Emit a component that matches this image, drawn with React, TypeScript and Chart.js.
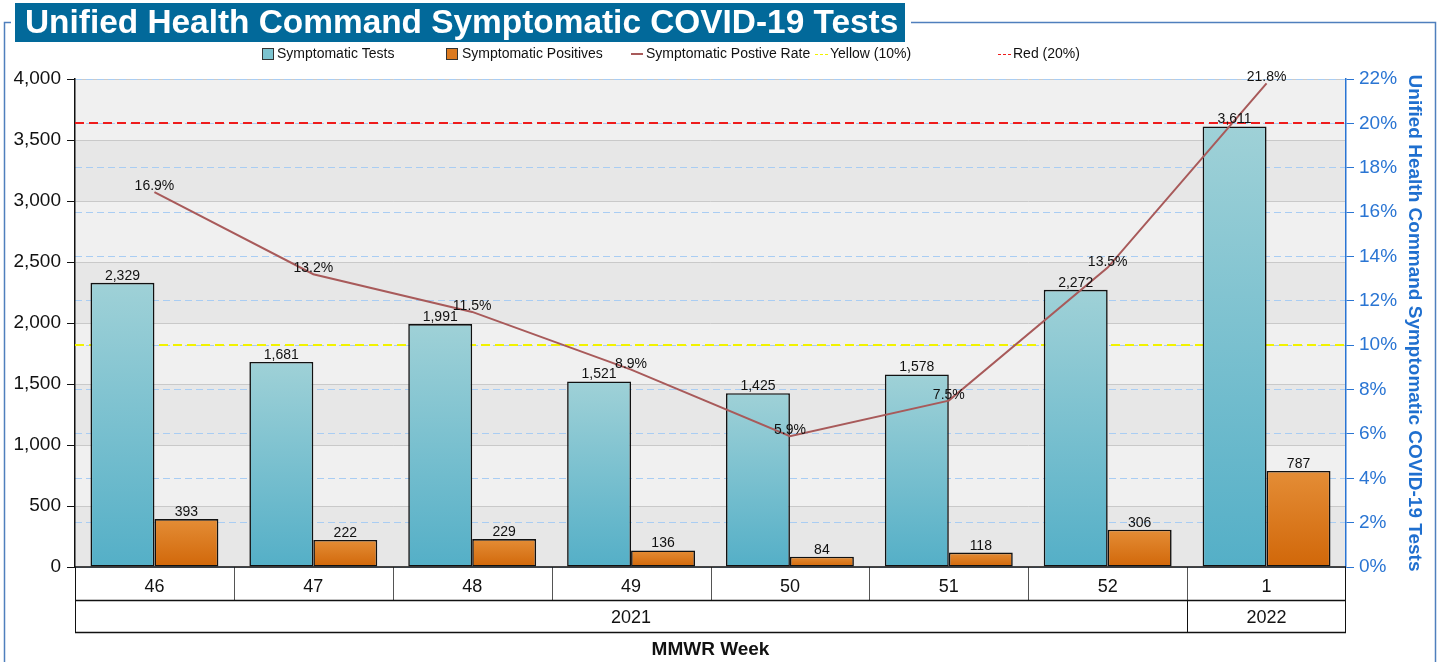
import React, { useEffect, useRef } from 'react';
import { Chart, registerables } from 'chart.js';

Chart.register(...registerables);

const FONT = '"Liberation Sans", Arial, sans-serif';

const weeks = ['46', '47', '48', '49', '50', '51', '52', '1'];
const years = ['2021', '2021', '2021', '2021', '2021', '2021', '2021', '2022'];
const symptomaticTests = [2329, 1681, 1991, 1521, 1425, 1578, 2272, 3611];
const symptomaticPositives = [393, 222, 229, 136, 84, 118, 306, 787];
const positiveRate = [16.9, 13.2, 11.5, 8.9, 5.9, 7.5, 13.5, 21.8];
const thresholdNames = ['Yellow (10%)', 'Red (20%)'];
const thresholdValues = [10, 20];
const thresholdColors = ['#f2f200', '#ee1c1c'];
const leftAxis = { min: 0, max: 4000, step: 500 };
const rightAxis = { min: 0, max: 22, step: 2 };

const TITLE = 'Unified Health Command Symptomatic COVID-19 Tests';
const RIGHT_TITLE = 'Unified Health Command Symptomatic COVID-19 Tests';
const X_TITLE = 'MMWR Week';

const BLUE_TOP = '#9fd1d7';
const BLUE_BOT = '#54afc7';
const ORANGE_TOP = '#e48d36';
const ORANGE_BOT = '#d16709';
const RATE_COLOR = '#a85a5a';
const FRAME = '#4f7fbd';

function gradientFill(top: string, bot: string, fallback: string) {
  return (ctx: any) => {
    const chart = ctx.chart;
    const area = chart.chartArea;
    if (!area || ctx.type !== 'data') return fallback;
    const ys = chart.scales.y;
    const yTop = ys.getPixelForValue(ctx.raw);
    const g = chart.ctx.createLinearGradient(0, yTop, 0, area.bottom);
    g.addColorStop(0, top);
    g.addColorStop(1, bot);
    return g;
  };
}

const fmt = (v: number) => v.toLocaleString('en-US');

const framePlugin = {
  id: 'frameTitle',
  beforeDraw(chart: any) {
    const ctx = chart.ctx;
    ctx.save();
    ctx.fillStyle = '#ffffff';
    ctx.fillRect(0, 0, chart.width, chart.height);
    // frame
    ctx.strokeStyle = FRAME;
    ctx.lineWidth = 1.5;
    ctx.beginPath();
    ctx.moveTo(4.5, chart.height);
    ctx.lineTo(4.5, 22.5);
    ctx.lineTo(1435.5, 22.5);
    ctx.lineTo(1435.5, chart.height);
    ctx.stroke();
    // gap + title box
    ctx.fillStyle = '#ffffff';
    ctx.fillRect(11, 0, 900, 44);
    ctx.fillStyle = '#02699a';
    ctx.fillRect(15, 3, 890, 39);
    ctx.fillStyle = '#ffffff';
    ctx.font = `bold 33.4px ${FONT}`;
    ctx.textBaseline = 'alphabetic';
    ctx.textAlign = 'left';
    ctx.fillText(TITLE, 25, 33);

    // plot bands
    const a = chart.chartArea;
    const ys = chart.scales.y;
    let i = 0;
    for (let v = leftAxis.min; v < leftAxis.max; v += leftAxis.step, i++) {
      const y0 = ys.getPixelForValue(v);
      const y1 = ys.getPixelForValue(v + leftAxis.step);
      ctx.fillStyle = i % 2 === 0 ? '#e7e7e7' : '#f0f0f0';
      ctx.fillRect(a.left, y1, a.right - a.left, y0 - y1);
    }

    // legend
    ctx.font = `14px ${FONT}`;
    ctx.textBaseline = 'middle';
    const ly = 54;
    ctx.fillStyle = '#7cc3cf';
    ctx.fillRect(262, ly - 6, 11, 11);
    ctx.strokeStyle = '#333';
    ctx.lineWidth = 1;
    ctx.strokeRect(262.5, ly - 5.5, 11, 11);
    ctx.fillStyle = '#111';
    ctx.fillText('Symptomatic Tests', 277, ly);
    ctx.fillStyle = '#dc7a20';
    ctx.fillRect(446, ly - 6, 11, 11);
    ctx.strokeRect(446.5, ly - 5.5, 11, 11);
    ctx.fillStyle = '#111';
    ctx.fillText('Symptomatic Positives', 462, ly);
    ctx.strokeStyle = RATE_COLOR;
    ctx.lineWidth = 2;
    ctx.beginPath();
    ctx.moveTo(631, ly);
    ctx.lineTo(643, ly);
    ctx.stroke();
    ctx.fillStyle = '#111';
    ctx.fillText('Symptomatic Postive Rate', 646, ly);
    const tx = [815, 998];
    thresholdNames.forEach((n, k) => {
      ctx.strokeStyle = thresholdColors[k];
      ctx.lineWidth = 1;
      ctx.setLineDash([3, 2]);
      ctx.beginPath();
      ctx.moveTo(tx[k], ly + 0.5);
      ctx.lineTo(tx[k] + 13, ly + 0.5);
      ctx.stroke();
      ctx.setLineDash([]);
      ctx.fillStyle = '#111';
      ctx.fillText(n, tx[k] + 15, ly);
    });
    ctx.restore();
  },
};

const thresholdPlugin = {
  id: 'thresholds',
  beforeDatasetsDraw(chart: any) {
    const ctx = chart.ctx;
    const a = chart.chartArea;
    const ys = chart.scales.y1;
    ctx.save();
    ctx.lineWidth = 2;
    ctx.setLineDash([9, 5]);
    thresholdValues.forEach((v, k) => {
      const y = Math.round(ys.getPixelForValue(v));
      ctx.strokeStyle = thresholdColors[k];
      ctx.beginPath();
      ctx.moveTo(a.left, y);
      ctx.lineTo(a.right, y);
      ctx.stroke();
    });
    ctx.restore();
  },
};

const labelPlugin = {
  id: 'valueLabels',
  afterDatasetsDraw(chart: any) {
    const ctx = chart.ctx;
    ctx.save();
    ctx.font = `14px ${FONT}`;
    ctx.fillStyle = '#111';
    ctx.textAlign = 'center';
    ctx.textBaseline = 'alphabetic';
    chart.data.datasets.forEach((ds: any, di: number) => {
      const meta = chart.getDatasetMeta(di);
      meta.data.forEach((el: any, i: number) => {
        const v = ds.data[i];
        if (ds.type === 'line') {
          ctx.fillText(v.toFixed(1) + '%', el.x, el.y - 2);
        } else {
          ctx.fillText(fmt(v), el.x, el.y - 3);
        }
      });
    });
    ctx.restore();
  },
};

const tablePlugin = {
  id: 'categoryTable',
  afterDraw(chart: any) {
    const ctx = chart.ctx;
    const a = chart.chartArea;
    const xs = chart.scales.x;
    const n = weeks.length;
    const centers = weeks.map((_, i) => xs.getPixelForValue(i));
    const bounds: number[] = [a.left];
    for (let i = 0; i < n - 1; i++) bounds.push((centers[i] + centers[i + 1]) / 2);
    bounds.push(a.right);
    const r0 = a.bottom;
    const r1 = r0 + 33;
    const r2 = r1 + 32;
    ctx.save();
    ctx.fillStyle = '#ffffff';
    ctx.fillRect(a.left, r0 + 1, a.right - a.left, r2 - r0);
    ctx.lineWidth = 1;
    ctx.strokeStyle = '#555';
    for (let i = 1; i < n; i++) {
      const x = Math.round(bounds[i]) + 0.5;
      ctx.beginPath();
      ctx.moveTo(x, r0);
      ctx.lineTo(x, r1);
      ctx.stroke();
    }
    const groups: { label: string; s: number; e: number }[] = [];
    years.forEach((y, i) => {
      const g = groups[groups.length - 1];
      if (g && g.label === y) g.e = i;
      else groups.push({ label: y, s: i, e: i });
    });
    ctx.strokeStyle = '#111';
    groups.forEach((g, gi) => {
      if (gi > 0) {
        const x = Math.round(bounds[g.s]) + 0.5;
        ctx.beginPath();
        ctx.moveTo(x, r1);
        ctx.lineTo(x, r2);
        ctx.stroke();
      }
    });
    ctx.strokeStyle = '#111';
    ctx.lineWidth = 1.5;
    ctx.beginPath();
    ctx.moveTo(a.left, r0);
    ctx.lineTo(a.right, r0);
    ctx.moveTo(a.left, r1 + 0.5);
    ctx.lineTo(a.right, r1 + 0.5);
    ctx.moveTo(a.left, r2 + 0.5);
    ctx.lineTo(a.right, r2 + 0.5);
    ctx.stroke();
    ctx.lineWidth = 1;
    ctx.beginPath();
    ctx.moveTo(Math.round(a.left) + 0.5, r0);
    ctx.lineTo(Math.round(a.left) + 0.5, r2);
    ctx.moveTo(Math.round(a.right) - 0.5, r0);
    ctx.lineTo(Math.round(a.right) - 0.5, r2);
    ctx.stroke();
    ctx.fillStyle = '#111';
    ctx.textAlign = 'center';
    ctx.textBaseline = 'alphabetic';
    ctx.font = `18px ${FONT}`;
    weeks.forEach((w, i) => ctx.fillText(w, (bounds[i] + bounds[i + 1]) / 2, r0 + 25));
    groups.forEach((g) => ctx.fillText(g.label, (bounds[g.s] + bounds[g.e + 1]) / 2, r1 + 23));
    ctx.font = `bold 19px ${FONT}`;
    ctx.fillText(X_TITLE, (a.left + a.right) / 2, r2 + 23);
    ctx.restore();
  },
};

export default function App() {
  const ref = useRef<HTMLCanvasElement | null>(null);
  useEffect(() => {
    if (!ref.current) return;
    Chart.defaults.font.family = FONT;
    const chart = new Chart(ref.current, {
      type: 'bar',
      data: {
        labels: weeks,
        datasets: [
          {
            type: 'line',
            label: 'Symptomatic Postive Rate',
            data: positiveRate,
            yAxisID: 'y1',
            borderColor: RATE_COLOR,
            borderWidth: 2,
            pointRadius: 0,
            tension: 0,
            order: 0,
          } as any,
          {
            type: 'bar',
            label: 'Symptomatic Tests',
            data: symptomaticTests,
            yAxisID: 'y',
            backgroundColor: gradientFill(BLUE_TOP, BLUE_BOT, BLUE_BOT),
            borderColor: '#111',
            borderWidth: 1.6,
            borderSkipped: false,
            barPercentage: 1,
            categoryPercentage: 0.805,
            order: 1,
          },
          {
            type: 'bar',
            label: 'Symptomatic Positives',
            data: symptomaticPositives,
            yAxisID: 'y',
            backgroundColor: gradientFill(ORANGE_TOP, ORANGE_BOT, ORANGE_BOT),
            borderColor: '#111',
            borderWidth: 1.6,
            borderSkipped: false,
            barPercentage: 1,
            categoryPercentage: 0.805,
            order: 1,
          },
        ],
      },
      options: {
        responsive: false,
        animation: false,
        layout: { padding: { left: 0, right: 0, top: 79, bottom: 95 } },
        plugins: {
          legend: { display: false },
          tooltip: { enabled: false },
          title: { display: false },
        },
        scales: {
          x: {
            display: false,
            offset: true,
            grid: { display: false },
          },
          y: {
            position: 'left',
            min: leftAxis.min,
            max: leftAxis.max,
            ticks: {
              stepSize: leftAxis.step,
              color: '#111',
              font: { size: 19 },
              padding: 6,
              callback: (v: any) => fmt(Number(v)),
            },
            grid: {
              color: '#c9c9c9',
              lineWidth: 1,
              tickColor: '#111',
              tickLength: 8,
            },
            border: { color: '#111', width: 1.5 },
            afterFit: (s: any) => {
              s.width = 75;
            },
          },
          y1: {
            position: 'right',
            min: rightAxis.min,
            max: rightAxis.max,
            ticks: {
              stepSize: rightAxis.step,
              color: '#2a75d3',
              font: { size: 19 },
              padding: 5,
              callback: (v: any) => `${v}%`,
            },
            grid: {
              color: '#a9cdf3',
              lineWidth: 1,
              tickColor: '#2a75d3',
              tickLength: 8,
              tickBorderDash: [],
            },
            border: { color: '#2a75d3', width: 1.5, dash: [7, 4] },
            title: {
              display: true,
              text: RIGHT_TITLE,
              color: '#1f6fcf',
              font: { size: 19, weight: 'bold' },
              padding: { top: 14, bottom: 0 },
            },
            afterFit: (s: any) => {
              s.width = 94;
            },
          },
        },
      },
      plugins: [framePlugin, thresholdPlugin, labelPlugin, tablePlugin],
    } as any);
    return () => chart.destroy();
  }, []);
  return (
    <div style={{ position: 'absolute', left: 0, top: 0, width: 1440, height: 662, background: '#fff' }}>
      <canvas ref={ref} width={1440} height={662} style={{ display: 'block' }} />
    </div>
  );
}
